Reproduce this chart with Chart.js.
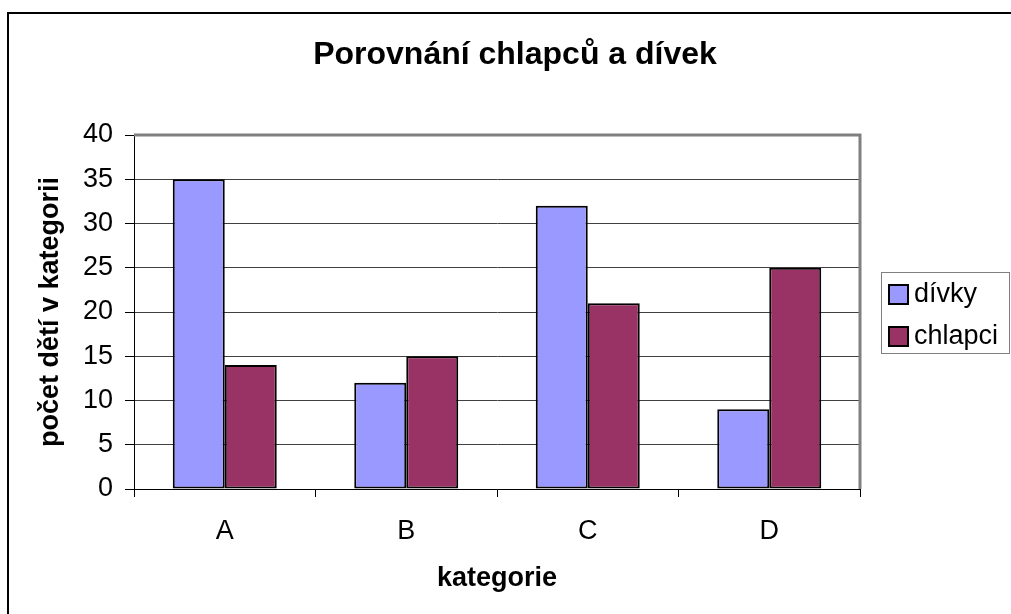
<!DOCTYPE html>
<html>
<head>
<meta charset="utf-8">
<title>Porovnání chlapců a dívek</title>
<script src="https://cdn.jsdelivr.net/npm/chart.js@4/dist/chart.umd.min.js"></script>
<style>
    html, body { margin: 0; padding: 0; background: #fff; }
    #wrap { width: 1011px; height: 614px; position: relative; }
</style>
</head>
<body>
<div id="wrap"><canvas id="bar-chart" width="1011" height="614"></canvas></div>
<script>
// data
const categories = ['A', 'B', 'C', 'D'];
const divky = [35, 12, 32, 9];
const chlapci = [14, 15, 21, 25];
const seriesNames = ['dívky', 'chlapci'];
const seriesColors = ['#9999FF', '#993366'];
const chartTitle = 'Porovnání chlapců a dívek';

const font = 'Liberation Sans, Arial, sans-serif';

// outer frame, title, plot border and legend box
const framePlugin = {
    id: 'frame',
    beforeDatasetsDraw: function (chart) {
        const ctx = chart.ctx;
        const a = chart.chartArea;
        ctx.save();
        ctx.strokeStyle = '#808080';
        ctx.lineWidth = 3;
        ctx.beginPath();
        ctx.moveTo(a.left, a.top);
        ctx.lineTo(a.right, a.top);
        ctx.lineTo(a.right, a.bottom);
        ctx.stroke();
        ctx.restore();
    },
    afterDraw: function (chart) {
        const ctx = chart.ctx;
        ctx.save();
        ctx.strokeStyle = '#000';
        ctx.lineWidth = 2;
        ctx.beginPath();
        ctx.moveTo(8, 614);
        ctx.lineTo(8, 13);
        ctx.lineTo(1011, 13);
        ctx.stroke();

        // title, centred on the whole frame
        ctx.fillStyle = '#000';
        ctx.font = 'bold 32px ' + font;
        ctx.textAlign = 'center';
        ctx.textBaseline = 'middle';
        ctx.fillText(chartTitle, 515, 55);

        // legend
        ctx.strokeStyle = '#808080';
        ctx.lineWidth = 1;
        ctx.strokeRect(881.5, 272.5, 128, 81);
        ctx.font = '27px ' + font;
        ctx.textAlign = 'left';
        const rows = [294, 336];
        chart.data.datasets.forEach(function (ds, i) {
            const y = rows[i];
            ctx.fillStyle = ds.backgroundColor;
            ctx.fillRect(889, y - 9, 19, 19);
            ctx.strokeStyle = '#000';
            ctx.lineWidth = 2;
            ctx.strokeRect(889, y - 9, 19, 19);
            ctx.fillStyle = '#000';
            ctx.fillText(ds.label, 914, y + 1);
        });
        ctx.restore();
    }
};

const ctx = document.getElementById('bar-chart').getContext('2d');
const barChart = new Chart(ctx, {
    type: 'bar',
    data: {
        labels: categories,
        datasets: [
            {
                label: seriesNames[0],
                data: divky,
                backgroundColor: seriesColors[0],
                borderColor: '#000',
                borderWidth: 2,
                borderSkipped: false
            },
            {
                label: seriesNames[1],
                data: chlapci,
                backgroundColor: seriesColors[1],
                borderColor: '#000',
                borderWidth: 2,
                borderSkipped: false
            }
        ]
    },
    options: {
        responsive: false,
        animation: false,
        events: [],
        layout: { padding: { top: 135, left: 0, right: 151, bottom: 0 } },
        datasets: {
            bar: { categoryPercentage: 0.573, barPercentage: 1 }
        },
        plugins: {
            legend: { display: false },
            tooltip: { enabled: false },
            title: { display: false }
        },
        scales: {
            x: {
                offset: true,
                grid: {
                    offset: true,
                    drawOnChartArea: false,
                    tickLength: 8,
                    tickColor: '#000',
                    lineWidth: 1
                },
                border: { color: '#000', width: 1 },
                ticks: {
                    color: '#000',
                    padding: 18,
                    font: { family: font, size: 27 }
                },
                title: {
                    display: true,
                    text: 'kategorie',
                    color: '#000',
                    font: { family: font, size: 27, weight: 'bold' },
                    padding: { top: 0, bottom: 19 }
                },
                afterFit: function (scale) { scale.height = 125; }
            },
            y: {
                min: 0,
                max: 40,
                ticks: {
                    stepSize: 5,
                    color: '#000',
                    padding: 12,
                    font: { family: font, size: 27 }
                },
                grid: {
                    color: function (c) { return c.tick && c.tick.value === 40 ? 'rgba(0,0,0,0)' : '#404040'; },
                    tickColor: '#000',
                    tickLength: 9,
                    lineWidth: 1
                },
                border: { color: '#000', width: 1 },
                title: {
                    display: true,
                    text: 'počet dětí v kategorii',
                    color: '#000',
                    font: { family: font, size: 27, weight: 'bold' },
                    padding: { top: 34, bottom: 0 }
                },
                afterFit: function (scale) { scale.width = 134; }
            }
        }
    },
    plugins: [framePlugin]
});
</script>
</body>
</html>
